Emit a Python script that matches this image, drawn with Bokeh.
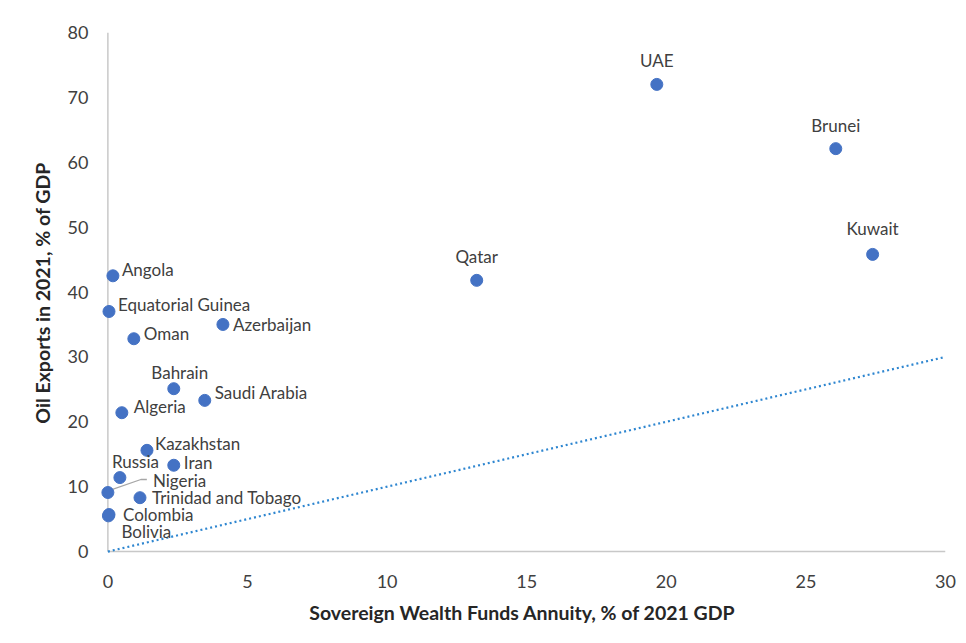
from bokeh.plotting import figure
from bokeh.models import ColumnDataSource, LabelSet, Range1d, SingleIntervalTicker
from bokeh.core.properties import value
from bokeh.embed import file_html
from bokeh.resources import INLINE

# ---- data ----
countries = ["UAE", "Brunei", "Kuwait", "Qatar", "Angola", "Equatorial Guinea", "Oman",
             "Azerbaijan", "Bahrain", "Saudi Arabia", "Algeria", "Kazakhstan", "Iran",
             "Russia", "Nigeria", "Trinidad and Tobago", "Colombia", "Bolivia"]
swf_annuity = [19.66, 26.07, 27.39, 13.21, 0.18, 0.04, 0.93, 4.12, 2.36, 3.47, 0.50, 1.40,
               2.36, 0.43, 0.00, 1.15, 0.04, 0.02]
oil_exports = [72.0, 62.1, 45.8, 41.8, 42.5, 37.0, 32.8, 35.0, 25.1, 23.3, 21.4, 15.6,
               13.3, 11.4, 9.1, 8.3, 5.7, 5.5]
ref_x = [0, 30]
ref_y = [0, 30]
x_axis_limits = [0, 30]
y_axis_limits = [0, 80]

# label placement (screen pixels, relative to point)
label_dx = [0, 0, 0, 0, 9, 9, 10, 10, 6, 10, 12, 8, 10, -8, 45, 12, 14, 13]
label_dy = [-24, -23, -26, -24, -6, -7, -5, 0, -16, -8, -6, -7, -3, -16, -12, 0, 0, 16]
label_align = ["center"] * 4 + ["left"] * 4 + ["center"] + ["left"] * 4 + ["left"] + ["left"] * 4

W, H = 958, 627
PAD_X, PAD_Y = 0.3, 0.3  # small padding so dots sitting on the axes are not clipped
p = figure(width=W, height=H, output_backend="svg", toolbar_location=None,
           x_range=Range1d(x_axis_limits[0] - PAD_X, x_axis_limits[1]),
           y_range=Range1d(y_axis_limits[0] - PAD_Y, y_axis_limits[1]),
           min_border_left=99, min_border_right=13, min_border_top=32, min_border_bottom=74)
p.outline_line_color = None
p.xgrid.grid_line_color = None
p.ygrid.grid_line_color = None
p.background_fill_color = "white"
p.border_fill_color = "white"

FONT = "Lato"
AXIS_COLOR = "#c8c8c8"
for ax in (p.xaxis[0], p.yaxis[0]):
    ax.axis_line_color = None
    ax.major_tick_line_color = None
    ax.minor_tick_line_color = None
    ax.major_label_text_font = FONT
    ax.major_label_text_font_size = "18px"
    ax.major_label_text_color = "#404040"
    ax.axis_label_text_font = FONT
    ax.axis_label_text_font_size = "19.5px"
    ax.axis_label_text_font_style = "bold"
    ax.axis_label_text_color = "#262626"

p.xaxis[0].ticker = SingleIntervalTicker(interval=5)
p.yaxis[0].ticker = SingleIntervalTicker(interval=10)
p.xaxis[0].major_label_standoff = 15
p.yaxis[0].major_label_standoff = 5
p.xaxis[0].axis_label = "Sovereign Wealth Funds Annuity, % of 2021 GDP"
p.yaxis[0].axis_label = "Oil Exports in 2021, % of GDP"
p.xaxis[0].axis_label_standoff = 10
p.yaxis[0].axis_label_standoff = 11

# axis lines drawn at x=0 and y=0 (the frame has a little padding)
p.line(x_axis_limits, [y_axis_limits[0]] * 2, line_color=AXIS_COLOR, line_width=1.5)
p.line([x_axis_limits[0]] * 2, y_axis_limits, line_color=AXIS_COLOR, line_width=1.5)

# reference line y = x
p.line(ref_x, ref_y, line_color="#2E86D0", line_width=2.2, line_dash="2 3")

# leader line for Nigeria (computed from its point with pixel offsets)
px_per_x = 838 / 30.0
px_per_y = 519 / 80.0
i_ng = countries.index("Nigeria")
nx, ny = swf_annuity[i_ng], oil_exports[i_ng]
lead_x = [nx + 1 / px_per_x, nx + 33 / px_per_x, nx + 39 / px_per_x]
lead_y = [ny + 2 / px_per_y, ny + 13 / px_per_y, ny + 13 / px_per_y]
p.line(lead_x, lead_y, line_color="#a6a6a6", line_width=1.3)

src = ColumnDataSource(dict(x=swf_annuity, y=oil_exports, name=countries,
                            dx=label_dx, dy=[-d for d in label_dy], align=label_align))
p.scatter("x", "y", source=src, size=12, fill_color="#4472C4", line_color="#4472C4")

labels = LabelSet(x="x", y="y", text="name", source=src, x_offset="dx", y_offset="dy",
                  text_align="align", text_baseline="middle",
                  text_font=value(FONT), text_font_size=value("17px"), text_color="#404040")
p.add_layout(labels)

open("out.html", "w").write(file_html(p, INLINE))
